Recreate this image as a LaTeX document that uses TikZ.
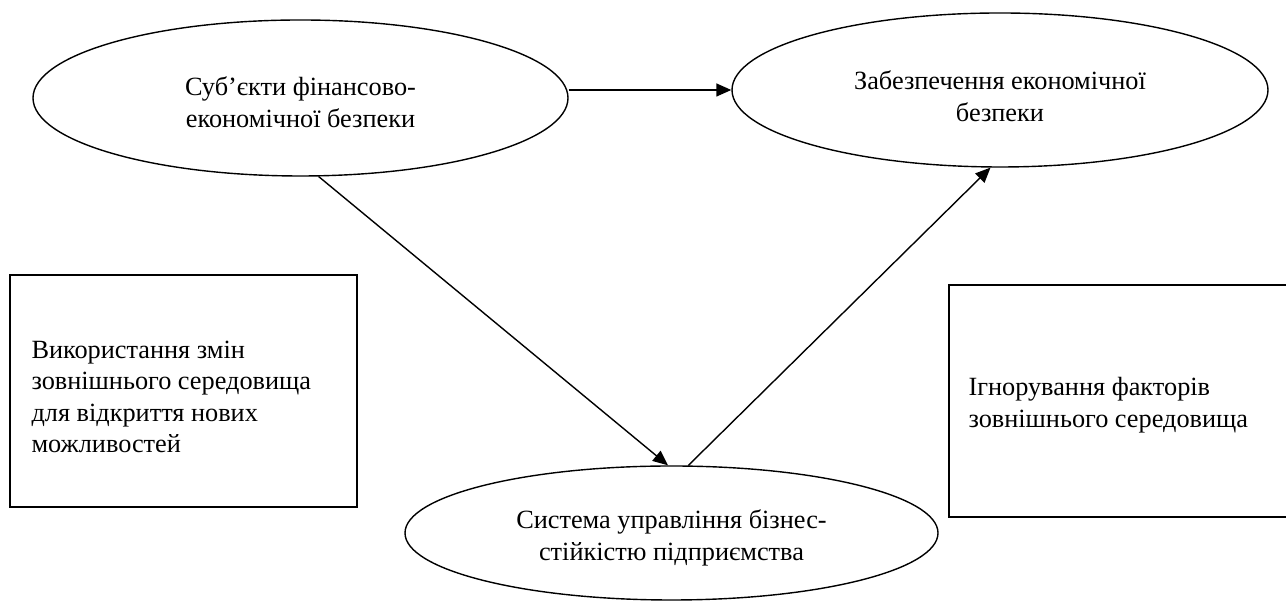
\documentclass[tikz,border=0pt]{standalone}
\usepackage{fontspec}
\setmainfont{Liberation Serif}
\usetikzlibrary{shapes.geometric,arrows.meta}
\begin{document}
\begin{tikzpicture}[x=1pt,y=1pt,
  every node/.style={font=\fontsize{26.3}{31.5}\selectfont},
  oval/.style={draw,ellipse,line width=1.4pt,inner sep=0pt},
  textbox/.style={draw,rectangle,line width=1.4pt,minimum width=347pt,minimum height=232pt},
  label/.style={inner sep=0pt,align=center},
  boxtext/.style={inner sep=0pt,align=left},
  arr/.style={line width=1.4pt,-{Triangle[length=15pt,width=13pt]}}]
\useasboundingbox (0,0) rectangle (1286,601);
\clip (0,0) rectangle (1286,601);
\node[oval,minimum width=535pt,minimum height=156pt] (e1) at (300.5,503) {};
\node[oval,minimum width=536pt,minimum height=154pt] (e2) at (1000,511) {};
\node[oval,minimum width=533pt,minimum height=134pt] (e3) at (671.5,68) {};
\node[textbox] (b1) at (183.5,210) {};
\node[textbox] (b2) at (1122.5,200) {};
\node[label] (t1) at ([yshift=-4pt]e1.center) {Суб’єкти фінансово-\\економічної безпеки};
\node[label] (t2) at ([yshift=-6pt]e2.center) {Забезпечення економічної\\безпеки};
\node[label] (t3) at ([yshift=-5pt]e3.center) {Система управління бізнес-\\стійкістю підприємства};
\node[boxtext,anchor=west] (t4) at ([xshift=22pt,yshift=-6pt]b1.west) {Використання змін\\зовнішнього середовища\\для відкриття нових\\можливостей};
\node[boxtext,anchor=west] (t5) at ([xshift=20pt,yshift=-4pt]b2.west) {Ігнорування факторів\\зовнішнього середовища};
\draw[arr] (e1.east |- e2.west) -- (e2.west);
\draw[arr] (e1.283) -- (e3.93);
\draw[arr] (e3.76) -- (e2.263);
\end{tikzpicture}
\end{document}
